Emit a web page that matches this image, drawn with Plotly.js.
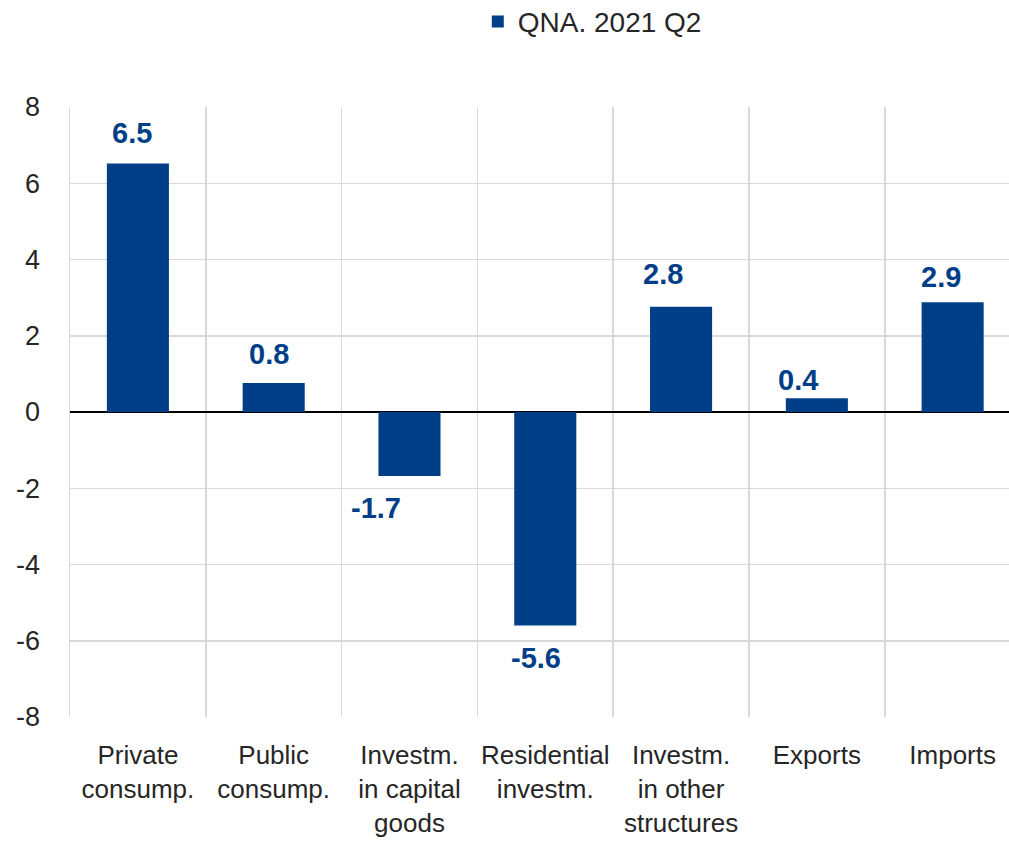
<!DOCTYPE html>
<html>
<head>
<meta charset="utf-8">
<script src="https://cdn.plot.ly/plotly-3.0.1.min.js"></script>
<style>html,body{margin:0;padding:0;background:#fff;}#chart{width:1009px;height:841px;}</style>
</head>
<body>
<div id="chart"></div>
<script>
// Data
var categories = ["Private<br>consump.", "Public<br>consump.", "Investm.<br>in capital<br>goods", "Residential<br>investm.", "Investm.<br>in other<br>structures", "Exports", "Imports"];
var values = [6.52, 0.76, -1.68, -5.6, 2.76, 0.36, 2.88];
var seriesName = "QNA. 2021 Q2";
var yTicks = [-8, -6, -4, -2, 0, 2, 4, 6, 8];

// Styling (label offsets in px, not data)
var barColor = "#003f87";
var labelDx = [-6, -5, -33, -9, -18, -19, -12];
var labelDy = [30, 29, -32, -32, 33, 18, 25];
var fontFam = "Liberation Sans, Arial, sans-serif";

var trace = {
  type: "bar",
  x: categories,
  y: values,
  name: seriesName,
  marker: {color: barColor},
  width: 0.457,
  hoverinfo: "none"
};

var annotations = categories.map(function(c, i) {
  return {
    x: c, y: values[i], xref: "x", yref: "y",
    text: values[i].toFixed(1),
    showarrow: false,
    xanchor: "center", yanchor: "middle",
    xshift: labelDx[i], yshift: labelDy[i],
    font: {family: fontFam, size: 29, color: barColor, weight: "bold"}
  };
});

var layout = {
  width: 1009, height: 841,
  margin: {l: 70, r: 0, t: 107, b: 124, pad: 0},
  paper_bgcolor: "#ffffff", plot_bgcolor: "#ffffff",
  showlegend: true,
  legend: {
    orientation: "h", xref: "container", yref: "container",
    x: 0.587, y: 0.974, xanchor: "center", yanchor: "middle",
    font: {family: fontFam, size: 28, color: "#262626"},
    itemwidth: 30
  },
  xaxis: {
    type: "category",
    range: [-0.5, 6.415],
    tickson: "boundaries",
    tickangle: 0,
    showgrid: true, gridcolor: "#d9d9d9", gridwidth: 1.5,
    ticks: "", showline: false, zeroline: false,
    tickfont: {family: fontFam, size: 26, color: "#262626"},
    ticklabelstandoff: 20
  },
  yaxis: {
    range: [-8, 8],
    tickvals: yTicks,
    ticktext: yTicks.map(String),
    showgrid: true, gridcolor: "#d9d9d9", gridwidth: 1.5,
    zeroline: true, zerolinecolor: "#000000", zerolinewidth: 2.5,
    ticks: "", showline: true, linecolor: "#d9d9d9", linewidth: 1.5,
    tickfont: {family: fontFam, size: 27, color: "#262626"},
    ticklabelstandoff: 23
  },
  annotations: annotations,
  font: {family: fontFam}
};

Plotly.newPlot("chart", [trace], layout, {displayModeBar: false, staticPlot: true});
</script>
</body>
</html>
